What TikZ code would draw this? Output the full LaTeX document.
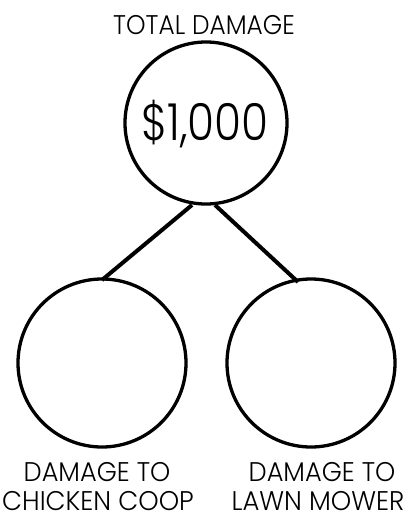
\documentclass[tikz,border=0pt]{standalone}
\usepackage{fontspec}
\setmainfont{Poppins Light}
\newcommand{\narrowtxt}[2]{\scalebox{#1}[1]{#2}}
\begin{document}
\begin{tikzpicture}[x=1pt,y=-1pt,
  ring/.style={circle,draw=black,line width=3.3pt,inner sep=0pt},
  link/.style={draw=black,line width=4pt},
  lbl/.style={font=\fontsize{27}{29}\selectfont,inner sep=0pt,align=center}]
\useasboundingbox (0,0) rectangle (408,528);
\node[ring,minimum size=162pt] (top) at (206,123) {};
\node[lbl,font=\fontsize{51}{53}\selectfont] (amt) at (205,124) {\narrowtxt{0.86}{\$1,000}};
\node[lbl] (title) at (204,25) {\narrowtxt{0.92}{TOTAL DAMAGE}};
\node[ring,minimum size=168pt] (left) at (102,363) {};
\node[ring,minimum size=168pt] (right) at (311,363) {};
\coordinate (lA) at (192,205);
\coordinate (rA) at (215,205);
\coordinate (lB) at (102,280);
\coordinate (rB) at (298,282);
\draw[link] (lA) -- (lB);
\draw[link] (rA) -- (rB);
\node[lbl] (l1) at (97,472) {\narrowtxt{0.95}{DAMAGE TO}};
\node[lbl] (l2) at (98,501) {\narrowtxt{0.96}{CHICKEN COOP}};
\node[lbl] (r1) at (322,472) {\narrowtxt{0.95}{DAMAGE TO}};
\node[lbl] (r2) at (318,501) {\narrowtxt{0.96}{LAWN MOWER}};
\end{tikzpicture}
\end{document}
